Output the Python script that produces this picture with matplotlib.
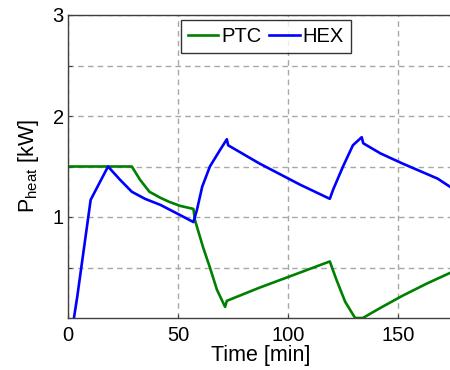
import matplotlib
matplotlib.use('Agg')
import matplotlib.pyplot as plt

plt.rcParams['font.family'] = ['Liberation Sans', 'DejaVu Sans']

# PTC heater power [kW] over time [min]
t_ptc = [0, 29, 32.7, 37, 42, 46, 51, 57, 57.7, 61.4, 64.5, 67.7, 71.4, 72.2,
         87, 105.5, 119, 122, 126, 130.5, 134, 142, 152, 163, 175]
p_ptc = [1.5, 1.5, 1.37, 1.25, 1.19, 1.15, 1.11, 1.08, 0.97, 0.70, 0.50, 0.28, 0.11, 0.17,
         0.30, 0.45, 0.56, 0.38, 0.16, 0.0, 0.0, 0.10, 0.22, 0.34, 0.46]

# HEX heat power [kW] over time [min]
t_hex = [2.7, 4.2, 10.3, 18.2, 23.6, 29, 35, 42, 50, 57, 58.6, 61, 64.5, 69, 72.2, 72.8,
         87, 105.5, 119, 120.5, 125, 129.5, 133.5, 134.2, 142, 152, 168, 175]
p_hex = [0, 0.21, 1.17, 1.50, 1.37, 1.25, 1.18, 1.12, 1.03, 0.95, 1.07, 1.30, 1.50, 1.66, 1.77, 1.71,
         1.53, 1.32, 1.18, 1.27, 1.50, 1.71, 1.79, 1.73, 1.63, 1.53, 1.38, 1.28]

x_ticks = [0, 50, 100, 150]
y_ticks = [0.5, 1, 1.5, 2, 2.5, 3]
y_labels = ['', '1', '', '2', '', '3']

fig = plt.figure(figsize=(4.5, 3.7), dpi=100)
ax = fig.add_axes([68 / 450, 52 / 370, 385 / 450, 303 / 370])

ax.plot(t_ptc, p_ptc, color='#008000', lw=1.9, label='PTC')
ax.plot(t_hex, p_hex, color='#0000ff', lw=1.9, label='HEX')

ax.set_xlim(0, 175)
ax.set_ylim(0, 3)
ax.set_xticks(x_ticks)
ax.set_yticks(y_ticks)
ax.set_yticklabels(y_labels)
ax.grid(True, color='#a8a8a8', linestyle=(0, (4, 3)), lw=1)
ax.set_axisbelow(True)
ax.tick_params(direction='in', length=3, labelsize=14.5, color='#404040')
ax.tick_params(axis='x', pad=6)
ax.tick_params(axis='y', pad=3)
for s in ax.spines.values():
    s.set_color('#404040')
    s.set_linewidth(1)

ax.set_xlabel('Time [min]', fontsize=15.5, labelpad=0)
ax.set_ylabel(r'P$_{\mathregular{heat}}$ [kW]', fontsize=15.5, labelpad=8)

leg = ax.legend(loc='upper left', bbox_to_anchor=(0.293, 0.985), ncol=2, fontsize=14.5,
                frameon=True, fancybox=False, edgecolor='black', handlelength=1.5,
                handletextpad=0.15, columnspacing=0.4, borderpad=0.35, borderaxespad=0.0)
leg.get_frame().set_linewidth(1)

fig.savefig('out.png', dpi=100)
